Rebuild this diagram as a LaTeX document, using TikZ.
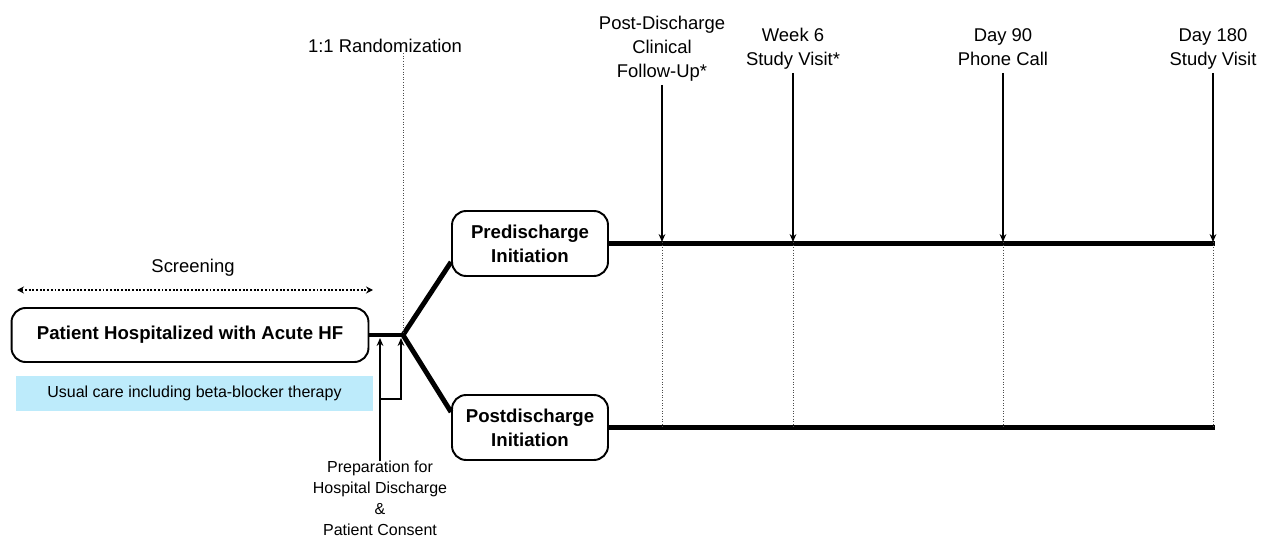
\documentclass[tikz,border=0pt]{standalone}
\usepackage{fontspec}
\setmainfont{Liberation Sans}
\usetikzlibrary{arrows.meta}
\definecolor{carebl}{RGB}{189,235,251}

\begin{document}
\begin{tikzpicture}[x=0.02cm,y=-0.02cm,
	box/.style={draw, line width=1.1pt, rounded corners=8pt, align=center,
		font=\fontsize{10.6}{13.6}\selectfont\bfseries},
	lbl/.style={align=center, inner sep=0pt, font=\fontsize{10.5}{13.6}\selectfont},
	small/.style={align=center, inner sep=0pt, font=\fontsize{9.1}{11.9}\selectfont},
	arm/.style={line width=2.8pt},
	dots/.style={densely dotted, line width=0.5pt, black!70},
	>={Stealth[length=4.5pt,width=3.8pt]}]
	\useasboundingbox (0,0) rectangle (1262,537);
	% left part
	\node [lbl] (SC) at (193,268) {Screening};
	\coordinate (SL) at (17,290);
	\coordinate (SR) at (373,290);
	\draw [densely dotted, line width=1.1pt, {Stealth[length=4pt,width=4pt]}-{Stealth[length=4pt,width=4pt]}] (SL) -- (SR);
	\node [box, minimum width=7.14cm, minimum height=1.08cm] (HF) at (190,335) {Patient Hospitalized with Acute HF};
	\node [small, fill=carebl, minimum width=7.14cm, minimum height=0.7cm] (UC) at (194.5,393.5) {Usual care including beta-blocker therapy};
	% arms
	\node [box, minimum width=3.12cm, minimum height=1.3cm] (PRE) at (530,243.5) {Predischarge\\Initiation};
	\node [box, minimum width=3.12cm, minimum height=1.3cm] (POST) at (530,427.5) {Postdischarge\\Initiation};
	\coordinate (J) at (403,335);
	\draw [line width=2.3pt] (HF.east) -- (J);
	\draw [arm, line join=round] (PRE.west |- 0,262) -- (J) -- (POST.west |- 0,412);
	\coordinate (E1) at (1215,243.5);
	\coordinate (E2) at (1215,427.5);
	\draw [arm] (PRE.east) -- (E1);
	\draw [arm] (POST.east) -- (E2);
	% randomization
	\node [lbl] (RZ) at (385,46) {1:1 Randomization};
	\draw [dots] (J |- RZ.south) -- (J);
	% preparation
	\node [small, anchor=north] (PR) at (380,461) {Preparation for\\Hospital Discharge\\\&\\Patient Consent};
	\coordinate (A1) at (381,338);
	\coordinate (A2) at (401,338);
	\draw [->, line width=0.85pt] (PR.north) -- (PR.north |- A1);
	\draw [->, line width=0.85pt] (PR.north |- 0,399) -| (A2);
	% visits
	\foreach \x/\t/\a/\txt [count=\i] in {662/16/85/{Post-Discharge\\Clinical\\Follow-Up*},
		793/28/73/{Week 6\\Study Visit*}, 1003/28/73/{Day 90\\Phone Call}, 1213/28/73/{Day 180\\Study Visit}} {
		\node [lbl, anchor=north] (M\i) at (\x,\t) {\txt};
		\coordinate (T\i) at (\x,242);
		\coordinate (B\i) at (\x,427.5);
		\draw [->, line width=0.85pt] (M\i.south |- 0,\a) -- (T\i);
		\draw [dots] (T\i) -- (B\i);
	}
\end{tikzpicture}
\end{document}
